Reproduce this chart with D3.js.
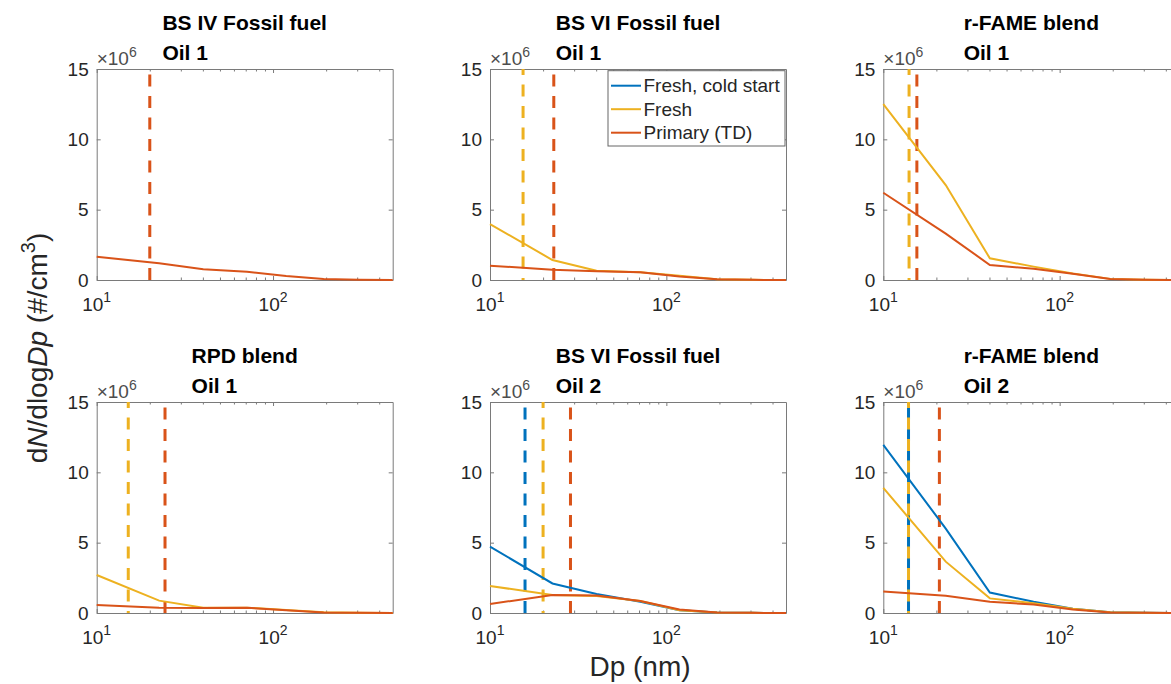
<!DOCTYPE html>
<html>
<head>
<meta charset="utf-8">
<script src="https://cdn.jsdelivr.net/npm/d3@7"></script>
<style>
body { margin: 0; background: #fff; }
svg { font-family: "Liberation Sans", Arial, sans-serif; display: block; }
</style>
</head>
<body>
<div id="graph"></div>
<script>
// particle diameters (nm), shared by all panels
const dp = [10, 22.6, 40.2, 71.2, 118.7, 193.6, 308, 477];

const titles = [
    ["BS IV Fossil fuel", "Oil 1"],
    ["BS VI Fossil fuel", "Oil 1"],
    ["r-FAME blend", "Oil 1"],
    ["RPD blend", "Oil 1"],
    ["BS VI Fossil fuel", "Oil 2"],
    ["r-FAME blend", "Oil 2"]
];

// dN/dlogDp in units of 1e6 #/cm3, one row per panel (null = not measured)
const coldStart = [
    null, null, null, null,
    [4.72, 2.1, 1.35, 0.8, 0.2, 0.03, 0.01, 0],
    [11.95, 6.0, 1.45, 0.8, 0.3, 0.05, 0.01, 0]
];
const fresh = [
    null,
    [3.98, 1.42, 0.66, 0.55, 0.3, 0.06, 0.01, 0],
    [12.5, 6.75, 1.54, 0.95, 0.47, 0.08, 0.02, 0],
    [2.7, 0.88, 0.38, 0.38, 0.22, 0.05, 0.01, 0],
    [1.92, 1.28, 1.2, 0.85, 0.2, 0.03, 0.01, 0],
    [8.9, 3.65, 1.04, 0.7, 0.3, 0.05, 0.01, 0]
];
const primary = [
    [1.66, 1.19, 0.76, 0.59, 0.28, 0.07, 0.02, 0.005],
    [1.02, 0.72, 0.62, 0.55, 0.25, 0.05, 0.01, 0],
    [6.2, 3.3, 1.07, 0.8, 0.45, 0.07, 0.02, 0],
    [0.57, 0.38, 0.35, 0.37, 0.2, 0.04, 0.01, 0],
    [0.64, 1.28, 1.25, 0.85, 0.25, 0.03, 0.01, 0],
    [1.52, 1.23, 0.8, 0.6, 0.25, 0.03, 0.01, 0]
];

// mode diameters (nm), drawn as dashed vertical lines
const modeCold = [null, null, null, null, 15.8, 13.9];
const modeFresh = [null, 15.4, 14.0, 15.1, 20.0, 13.9];
const modePrimary = [20.0, 23.0, 15.5, 24.4, 28.6, 20.8];

const seriesNames = ["Fresh, cold start", "Fresh", "Primary (TD)"];
const seriesColors = ["#0072BD", "#EDB120", "#D95319"];

const yTicks = [0, 5, 10, 15];
const xMajor = [10, 100];
const xMinor = [20, 30, 40, 50, 60, 70, 80, 90, 200, 300, 400];

const width = 1171, height = 684;
const panelW = 296, panelH = 211;
const lefts = [96.7, 490, 883.3];
const tops = [69, 402];
const boxColor = "#7a7a7a";
const textColor = "#262626";

const svg = d3.select("#graph").append("svg")
    .attr("width", width)
    .attr("height", height);

const x = d3.scaleLog().domain([10, 477]).range([0, panelW]);
const y = d3.scaleLinear().domain([0, 15]).range([panelH, 0]);
const line = d3.line()
    .x(d => x(d[0]))
    .y(d => y(d[1]));

titles.forEach((t, i) => drawPanel(i));
drawLabels();

function styleAxis(sel) {
    sel.select(".domain").attr("stroke", boxColor);
    sel.selectAll(".tick line").attr("stroke", boxColor);
    sel.selectAll(".tick text").attr("fill", textColor).style("font-size", "19px");
}

function drawPanel(i) {
    const g = svg.append("g")
        .attr("transform", `translate(${lefts[i % 3]},${tops[Math.floor(i / 3)]})`);

    // box with inward ticks
    g.append("g")
        .call(d3.axisLeft(y).tickValues(yTicks).tickSizeInner(-4).tickSizeOuter(0).tickPadding(8))
        .call(styleAxis);
    g.append("g")
        .attr("transform", `translate(${panelW},0)`)
        .call(d3.axisRight(y).tickValues(yTicks).tickSizeInner(-4).tickSizeOuter(0).tickFormat(""))
        .call(styleAxis);
    g.append("g")
        .attr("transform", `translate(0,${panelH})`)
        .call(d3.axisBottom(x).tickValues(xMajor).tickSizeInner(-4).tickSizeOuter(0).tickFormat(""))
        .call(styleAxis);
    g.append("g")
        .attr("transform", `translate(0,${panelH})`)
        .call(d3.axisBottom(x).tickValues(xMinor).tickSizeInner(-2.5).tickSizeOuter(0).tickFormat(""))
        .call(styleAxis)
        .select(".domain").remove();
    g.append("g")
        .call(d3.axisTop(x).tickValues(xMajor).tickSizeInner(-4).tickSizeOuter(0).tickFormat(""))
        .call(styleAxis);
    g.append("g")
        .call(d3.axisTop(x).tickValues(xMinor).tickSizeInner(-2.5).tickSizeOuter(0).tickFormat(""))
        .call(styleAxis)
        .select(".domain").remove();

    // 10^n tick labels
    const xt = g.selectAll("text.xt")
        .data(xMajor)
        .join("text")
        .attr("class", "xt")
        .attr("x", d => x(d))
        .attr("y", panelH + 31)
        .attr("text-anchor", "middle")
        .attr("fill", textColor)
        .style("font-size", "19px");
    xt.append("tspan").text("10");
    xt.append("tspan")
        .attr("dy", -9)
        .style("font-size", "14px")
        .text(d => Math.round(Math.log10(d)));

    // x10^6 exponent
    const ex = g.append("text")
        .attr("x", 0)
        .attr("y", -4)
        .attr("fill", "#4d4d4d")
        .style("font-size", "19px");
    ex.append("tspan").text("\u00d710");
    ex.append("tspan").attr("dy", -8).style("font-size", "14px").text("6");

    // two-line title, lines left aligned, block centred
    const t1 = g.append("text")
        .attr("y", -39)
        .attr("fill", "#000")
        .style("font-size", "21px")
        .style("font-weight", "bold")
        .text(titles[i][0]);
    const t2 = g.append("text")
        .attr("y", -9)
        .attr("fill", "#000")
        .style("font-size", "21px")
        .style("font-weight", "bold")
        .text(titles[i][1]);
    const w = Math.max(t1.node().getComputedTextLength(), t2.node().getComputedTextLength());
    t1.attr("x", panelW / 2 - w / 2);
    t2.attr("x", panelW / 2 - w / 2);

    // dashed mode lines
    const modes = [modeCold[i], modeFresh[i], modePrimary[i]];
    modes.forEach((m, k) => {
        if (m == null) return;
        g.append("line")
            .attr("x1", x(m))
            .attr("x2", x(m))
            .attr("y1", y(0))
            .attr("y2", y(15))
            .attr("stroke", seriesColors[k])
            .attr("stroke-width", 3)
            .attr("stroke-dasharray", "12,9.5")
            .attr("stroke-dashoffset", k == 1 ? 10 : 0);
    });

    // size distributions
    const series = [coldStart[i], fresh[i], primary[i]];
    series.forEach((s, k) => {
        if (!s) return;
        g.append("path")
            .datum(dp.map((d, j) => [d, s[j]]))
            .attr("d", line)
            .attr("fill", "none")
            .attr("stroke", seriesColors[k])
            .attr("stroke-width", 2);
    });

    if (i == 1) drawLegend(g);
}

function drawLegend(g) {
    const lg = g.append("g")
        .attr("transform", `translate(${panelW - 178},1.7)`);
    lg.append("rect")
        .attr("width", 177)
        .attr("height", 75.3)
        .attr("fill", "#fff")
        .attr("stroke", "#666");
    seriesNames.forEach((name, k) => {
        const yy = 15 + k * 23.5;
        lg.append("line")
            .attr("x1", 3)
            .attr("x2", 33)
            .attr("y1", yy)
            .attr("y2", yy)
            .attr("stroke", seriesColors[k])
            .attr("stroke-width", 2);
        lg.append("text")
            .attr("x", 35.5)
            .attr("y", yy)
            .attr("dy", "0.35em")
            .attr("fill", textColor)
            .style("font-size", "19px")
            .text(name);
    });
}

function drawLabels() {
    svg.append("text")
        .attr("x", 640)
        .attr("y", 676)
        .attr("text-anchor", "middle")
        .attr("fill", textColor)
        .style("font-size", "28px")
        .text("Dp (nm)");

    const yl = svg.append("text")
        .attr("transform", "translate(47,348) rotate(-90)")
        .attr("text-anchor", "middle")
        .attr("fill", textColor)
        .style("font-size", "28px");
    yl.append("tspan").text("d");
    yl.append("tspan").style("font-style", "italic").text("N");
    yl.append("tspan").text("/dlog");
    yl.append("tspan").style("font-style", "italic").text("Dp");
    yl.append("tspan").text(" (#/cm");
    yl.append("tspan").attr("dy", -12).style("font-size", "20px").text("3");
    yl.append("tspan").attr("dy", 12).text(")");
}
</script>
</body>
</html>
